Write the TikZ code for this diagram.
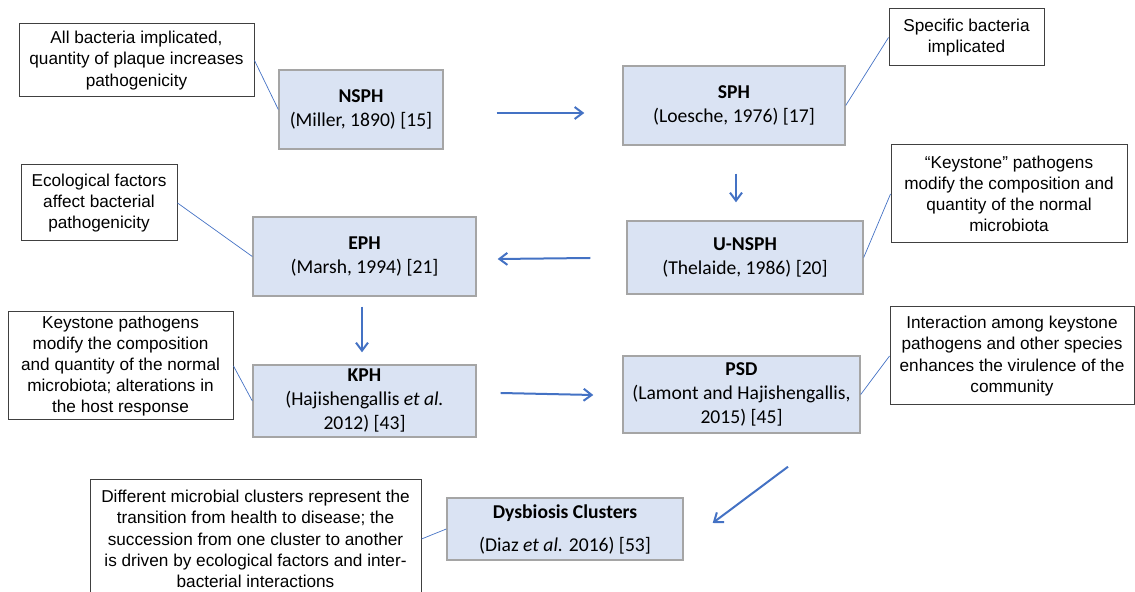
\documentclass[tikz,border=0pt]{standalone}
\usepackage{fontspec}
\setmainfont{Carlito}
\newfontfamily\notefont{Liberation Sans}
\usepackage{xcolor}
\usepackage{tikz}
\usetikzlibrary{calc, arrows.meta}

\definecolor{hypfill}{HTML}{DAE3F3}
\definecolor{hypdraw}{HTML}{A5A5A5}
\definecolor{flowblue}{HTML}{4472C4}
\definecolor{notedraw}{HTML}{404040}

\begin{document}
\begin{tikzpicture}[x=0.5pt, y=-0.5pt,
        hypbox/.style={rectangle, draw=hypdraw, line width=0.7pt, fill=hypfill, align=center, inner sep=0pt, font=\fontsize{9.8}{12}\selectfont},
        notebox/.style={rectangle, draw=notedraw, line width=0.5pt, fill=white, align=center, inner sep=0pt, font=\notefont\fontsize{8.6}{10.6}\selectfont},
        flow/.style={-{Straight Barb[length=4pt, width=6pt]}, draw=flowblue, line width=1pt},
        link/.style={draw=flowblue, line width=0.35pt}]

        \useasboundingbox (0,0) rectangle (1135,592);
        \clip (0,0) rectangle (1135,592);

        %% Hypotheses
        \node (nsph) [hypbox, minimum width=82pt, minimum height=39.5pt] at (361,109.5) {\textbf{NSPH}\\(Miller, 1890) [15]};
        \node (sph) [hypbox, minimum width=111pt, minimum height=39.5pt] at (734,105.5) {\textbf{SPH}\\(Loesche, 1976) [17]};
        \node (unsph) [hypbox, minimum width=118pt, minimum height=36.5pt] at (745,257.5) {\textbf{U-NSPH}\\(Thelaide, 1986) [20]};
        \node (eph) [hypbox, minimum width=111.5pt, minimum height=39.5pt] at (364.5,256.5) {\textbf{EPH}\\(Marsh, 1994) [21]};
        \node (kph) [hypbox, minimum width=111.5pt, minimum height=36pt] at (364.5,401) {\textbf{KPH}\\(Hajishengallis \textit{et al.}\\2012) [43]};
        \node (psd) [hypbox, minimum width=118.5pt, minimum height=38.5pt] at (741.5,394.5) {\textbf{PSD}\\(Lamont and Hajishengallis,\\2015) [45]};
        \node (dys) [hypbox, minimum width=118pt, minimum height=31pt] at (565,529) {\textbf{Dysbiosis Clusters}\\[4.5pt](Diaz \textit{et al.} 2016) [53]};

        %% Notes
        \node (plaque) [notebox, minimum width=117.5pt, minimum height=36.5pt] at (136.5,60.5) {All bacteria implicated,\\quantity of plaque increases\\pathogenicity};
        \node (specific) [notebox, minimum width=77.5pt, minimum height=28.5pt] at (966.5,37.5) {Specific bacteria\\implicated};
        \node (modify) [notebox, minimum width=118pt, minimum height=49pt] at (1009,194) {“Keystone” pathogens\\modify the composition and\\quantity of the normal\\microbiota};
        \node (ecology) [notebox, minimum width=78pt, minimum height=38pt] at (99,203) {Ecological factors\\affect bacterial\\pathogenicity};
        \node (host) [notebox, minimum width=112.5pt, minimum height=54pt] at (120.5,366) {Keystone pathogens\\modify the composition\\and quantity of the normal\\microbiota; alterations in\\the host response};
        \node (virulence) [notebox, minimum width=122pt, minimum height=49pt] at (1012,356) {Interaction among keystone\\pathogens and other species\\enhances the virulence of the\\community};
        \node (clusters) [notebox, minimum width=165.5pt, minimum height=59pt] at (255.5,539) {Different microbial clusters represent the\\transition from health to disease; the\\succession from one cluster to another\\is driven by ecological factors and inter-\\bacterial interactions};

        %% Arrows
        \draw [flow] ($(nsph.east) + (53,3.5)$) -- ($(sph.west) + (-38,7.5)$);
        \draw [flow] ($(sph.south) + (2,28)$) -- ($(unsph.north) + (-9,-18)$);
        \draw [flow] ($(unsph.west) + (-36,0.5)$) -- ($(eph.east) + (21,2.5)$);
        \draw [flow] ($(eph.south) + (-2.5,10)$) -- ($(kph.north) + (-2.5,-12)$);
        \draw [flow] ($(kph.east) + (24,-8)$) -- ($(psd.west) + (-29,0.5)$);
        \draw [flow] ($(psd.south) + (46.5,33)$) -- ($(dys.east) + (29,-6)$);

        %% link to the notes
        \draw [link] (plaque.east) -- (nsph.west);
        \draw [link] (sph.east) -- (specific.west);
        \draw [link] (unsph.east) -- (modify.west);
        \draw [link] (eph.west) -- (ecology.east);
        \draw [link] (kph.west) -- (host.east);
        \draw [link] (psd.east) -- (virulence.west);
        \draw [link] (dys.west) -- (clusters.east);

\end{tikzpicture}
\end{document}
